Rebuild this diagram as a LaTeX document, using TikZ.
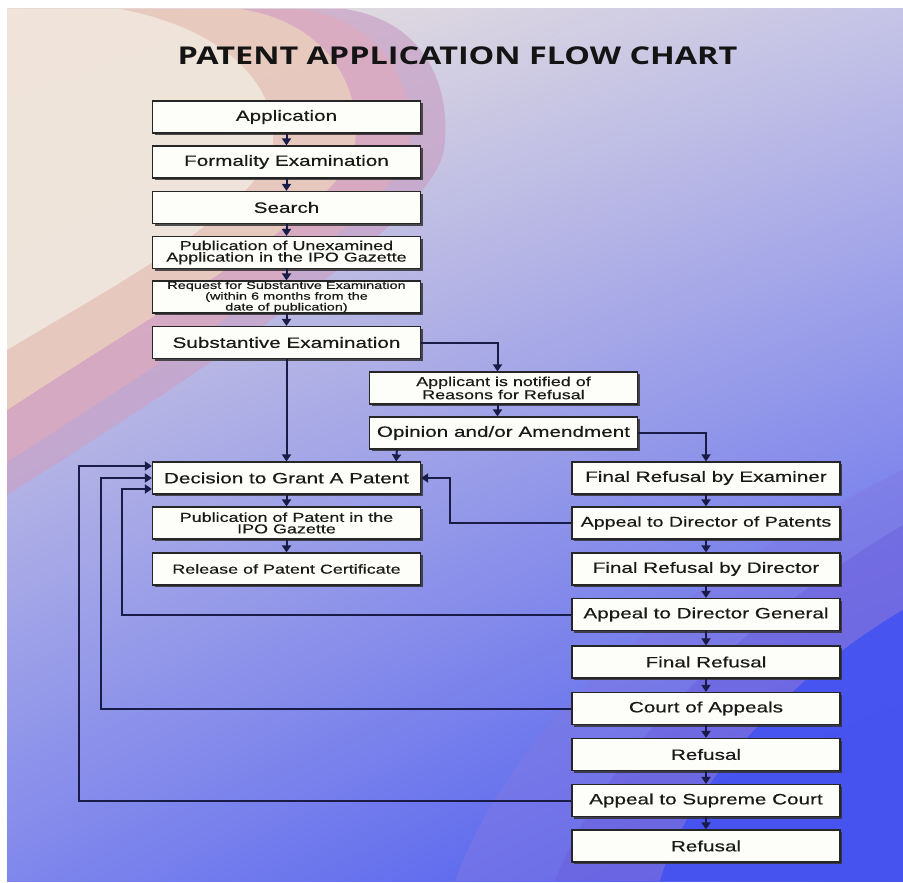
\documentclass[tikz,border=0pt]{standalone}
\usepackage{fontspec}
\usetikzlibrary{arrows.meta,shadows,calc,shadings}
\newfontfamily\boxfont[FakeStretch=1.38,FakeBold=0.4]{Liberation Sans}
\newfontfamily\titlefont[FakeStretch=1.32]{Open Sans}
\definecolor{navy}{HTML}{1A1C48}
\definecolor{bgUL}{HTML}{EFE6DC}
\definecolor{bgUR}{HTML}{C6C4E6}
\definecolor{bgLL}{HTML}{7F87EC}
\definecolor{bgLR}{HTML}{4252F0}
\definecolor{sw1}{HTML}{C9A2C6}
\definecolor{sw2}{HTML}{DEAABD}
\definecolor{sw3}{HTML}{EDD3BE}
\definecolor{sw4}{HTML}{F2EBE2}
\definecolor{vio1}{HTML}{8078E4}
\definecolor{vio2}{HTML}{6A5CDC}
\definecolor{blu}{HTML}{4352F1}
\definecolor{boxfill}{HTML}{FDFDF9}
\tikzset{
  box/.style={draw=black!85, line width=1.2pt, fill=boxfill, minimum width=268pt,
    minimum height=32pt, inner sep=0pt, align=center, text=black!90,
    font=\boxfont\fontsize{15}{17}\selectfont,
    drop shadow={shadow xshift=2pt, shadow yshift=-2pt, fill=black!80, opacity=0.85}},
  small/.style={font=\boxfont\fontsize{13}{11.5}\selectfont},
  mid/.style={font=\boxfont\fontsize{14.2}{16}\selectfont},
  tiny/.style={font=\boxfont\fontsize{10.5}{9.6}\selectfont},
  conn/.style={draw=navy, line width=2pt, -{Triangle[width=9pt,length=7pt]}},
}
\begin{document}
\begin{tikzpicture}[x=1pt,y=-1pt]
\useasboundingbox (0,0) rectangle (903,883);
\fill[white] (0,0) rectangle (903,883);
\shade[upper left=bgUL, upper right=bgUR, lower left=bgLL, lower right=bgLR] (7,9) rectangle (903,881);
% top-left swoosh
\fill[sw1, opacity=0.7] (7,9) -- (345,9) .. controls (428,22) and (452,90) .. (444,150) .. controls (432,215) and (260,335) .. (7,495) -- cycle;
\fill[sw2, opacity=0.7] (7,9) -- (300,9) .. controls (388,22) and (418,90) .. (408,150) .. controls (392,212) and (225,322) .. (7,462) -- cycle;
\fill[sw3, opacity=0.75] (7,9) -- (240,9) .. controls (328,22) and (365,90) .. (354,150) .. controls (336,212) and (175,300) .. (7,410) -- cycle;
\fill[sw4, opacity=0.8] (7,9) -- (120,9) .. controls (230,30) and (282,90) .. (272,150) .. controls (252,212) and (120,282) .. (7,350) -- cycle;
% bottom-right swoosh
\fill[vio1, opacity=0.5] (903,470) .. controls (720,560) and (520,700) .. (455,881) -- (903,881) -- cycle;
\fill[vio2, opacity=0.45] (903,525) .. controls (760,610) and (610,740) .. (555,881) -- (903,881) -- cycle;
\fill[blu, opacity=0.9] (903,610) .. controls (800,670) and (690,780) .. (660,881) -- (903,881) -- cycle;

% title
\node[anchor=base, text=black!92, font=\titlefont\bfseries\fontsize{24.5}{28}\selectfont, inner sep=0pt] (title) at (457.5,64.5) {PATENT APPLICATION FLOW CHART};

% left column
\node[box] (app) at (286.5,117) {Application};
\node[box] (form) at (286.5,162) {Formality Examination};
\node[box] (search) at (286.5,207.5) {Search};
\node[box, small] (pubu) at (286.5,252.5) {Publication of Unexamined\\Application in the IPO Gazette};
\node[box, tiny] (req) at (286.5,297) {Request for Substantive Examination\\(within 6 months from the\\date of publication)};
\node[box] (subst) at (286.5,342.5) {Substantive Examination};
\node[box] (dec) at (286.5,478) {Decision to Grant A Patent};
\node[box, small] (pubp) at (286.5,523) {Publication of Patent in the\\IPO Gazette};
\node[box, small] (rel) at (286.5,569) {Release of Patent Certificate};
% middle
\node[box, small] (notif) at (503.5,388) {Applicant is notified of\\Reasons for Refusal};
\node[box] (opin) at (503.5,433) {Opinion and/or Amendment};
% right column
\node[box] (fre) at (706,478) {Final Refusal by Examiner};
\node[box, mid] (adp) at (706,523) {Appeal to Director of Patents};
\node[box] (frd) at (706,569) {Final Refusal by Director};
\node[box] (adg) at (706,614.5) {Appeal to Director General};
\node[box] (fr) at (706,662) {Final Refusal};
\node[box] (coa) at (706,708.5) {Court of Appeals};
\node[box] (ref1) at (706,754.5) {Refusal};
\node[box] (asc) at (706,800.5) {Appeal to Supreme Court};
\node[box] (ref2) at (706,846) {Refusal};

% vertical chain arrows
\foreach \a/\b in {app/form, form/search, search/pubu, pubu/req, req/subst, subst/dec, dec/pubp, pubp/rel,
  fre/adp, adp/frd, frd/adg, adg/fr, fr/coa, coa/ref1, ref1/asc, asc/ref2}
  \draw[conn] (\a.south) -- (\b.north);
\draw[conn] (subst.east) -| ($(notif.north)+(-6,0)$);
\draw[conn] ($(notif.south)+(-6,0)$) -- ($(opin.north)+(-6,0)$);
\draw[conn] ($(opin.south west)+(28,0)$) -- ($(dec.north east)+(-25,0)$);
\draw[conn] (opin.east) -| (fre.north);
% returns to decision
\draw[conn] (adp.west) -| ($(dec.east)+(29,0)$) -- (dec.east);
\draw[conn] (adg.west) -| ($(dec.west)+(-30,11)$) -- ($(dec.west)+(0,11)$);
\draw[conn] (coa.west) -| ($(dec.west)+(-51,0)$) -- (dec.west);
\draw[conn] (asc.west) -| ($(dec.west)+(-73,-12)$) -- ($(dec.west)+(0,-12)$);
\end{tikzpicture}
\end{document}
